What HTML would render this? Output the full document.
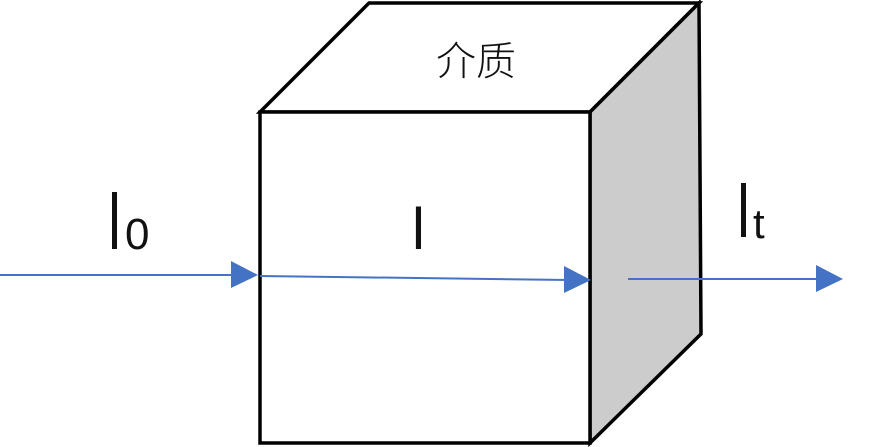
<!DOCTYPE html>
<html><head><meta charset="utf-8"><style>
html,body{margin:0;padding:0;background:#fff;width:874px;height:447px;overflow:hidden}
svg text{font-family:"Liberation Sans","Noto Sans CJK SC",sans-serif;fill:#111}
</style></head><body>
<svg width="874" height="447" viewBox="0 0 874 447" xmlns="http://www.w3.org/2000/svg">
<polygon points="369,3 699,3 590,112 260,112" fill="#fff" stroke="#000" stroke-width="3.5" stroke-linejoin="miter"/>
<polygon points="590,112 699,3 701,334 590,443" fill="#cccccc" stroke="#000" stroke-width="3.5"/>
<rect x="260" y="112" width="330" height="331" fill="#fff" stroke="#000" stroke-width="3.5"/>
<text x="476" y="75" font-size="40" font-weight="300" text-anchor="middle">介质</text>
<line x1="0" y1="275" x2="236" y2="275" stroke="#4472c4" stroke-width="2"/>
<polygon points="231,261 258,275 231,288" fill="#4472c4"/>
<line x1="260" y1="276" x2="570" y2="280" stroke="#4472c4" stroke-width="2"/>
<polygon points="564,266 591,280 564,293" fill="#4472c4"/>
<line x1="628" y1="279" x2="820" y2="279" stroke="#4472c4" stroke-width="2"/>
<polygon points="816,265 843,279 816,292" fill="#4472c4"/>
<rect x="112" y="192" width="5" height="57" fill="#111"/>
<text x="125" y="249" font-size="44">0</text>
<text x="412" y="249" font-size="58">l</text>
<rect x="741" y="183" width="5" height="54" fill="#111"/>
<text x="753" y="238" font-size="42">t</text>
</svg>
</body></html>
